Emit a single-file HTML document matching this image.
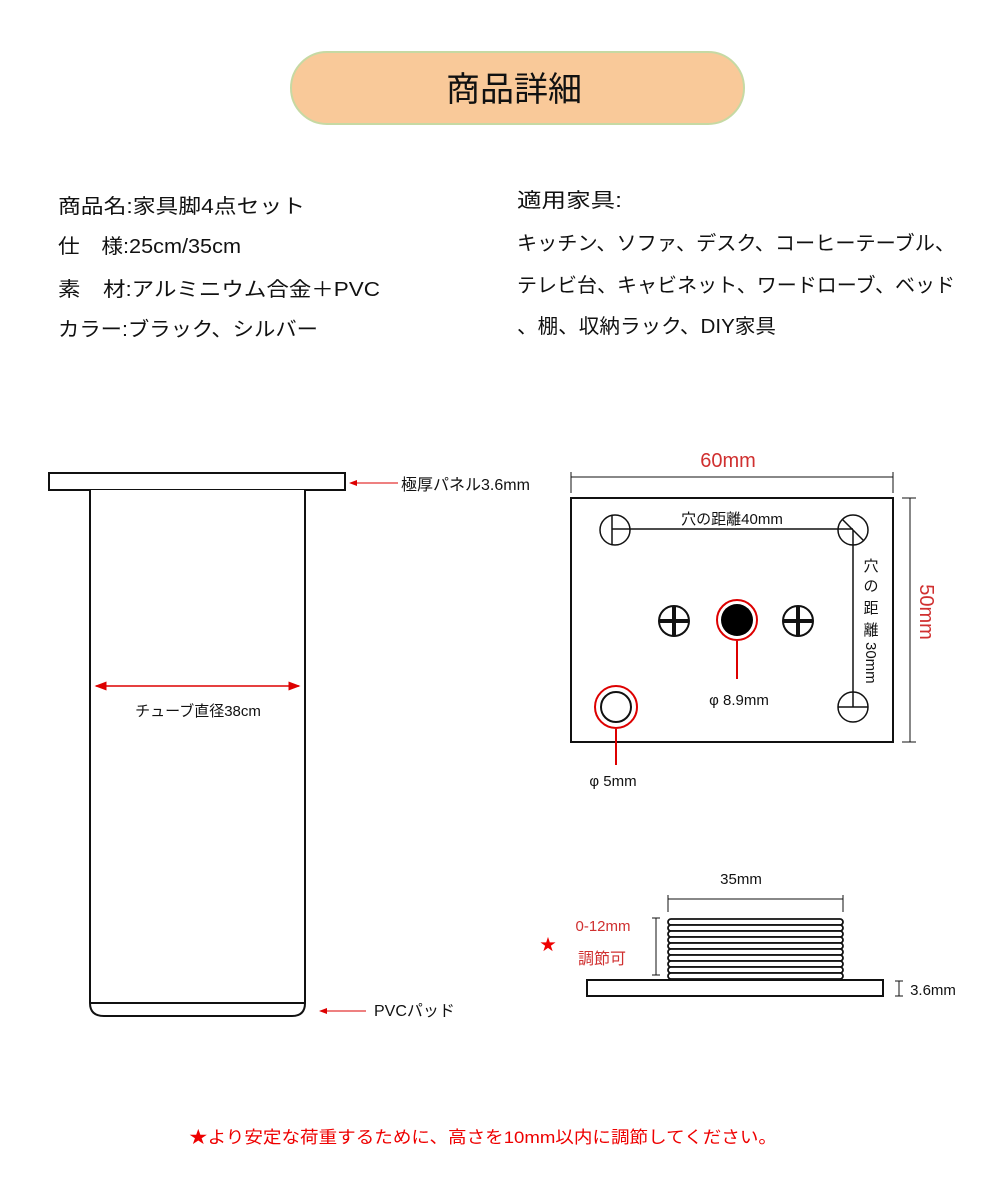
<!DOCTYPE html>
<html><head><meta charset="utf-8"><style>
html,body{margin:0;padding:0;background:#fff}
svg{display:block}
text{font-family:"Liberation Sans","Noto Sans CJK JP",sans-serif}
</style></head><body>
<svg width="1000" height="1200" viewBox="0 0 1000 1200" xmlns="http://www.w3.org/2000/svg">
<defs>
<marker id="ar" markerWidth="8" markerHeight="8" refX="1" refY="4" orient="auto"><path d="M8,1 L0,4 L8,7 z" fill="#d00"/></marker>
<marker id="ar2" markerWidth="8" markerHeight="8" refX="7" refY="4" orient="auto"><path d="M0,1 L8,4 L0,7 z" fill="#d00"/></marker>
</defs>
<rect x="291" y="52" width="453" height="72" rx="36" fill="#f9c999" stroke="#c6d9a3" stroke-width="2"/>
<text x="514" y="101" font-size="34" text-anchor="middle" fill="#111">商品詳細</text>

<g font-size="20" fill="#111">
<text x="58" y="213" textLength="247" lengthAdjust="spacingAndGlyphs">商品名:家具脚4点セット</text>
<text x="58" y="253" textLength="183" lengthAdjust="spacingAndGlyphs">仕　様:25cm/35cm</text>
<text x="58" y="296" textLength="322" lengthAdjust="spacingAndGlyphs">素　材:アルミニウム合金＋PVC</text>
<text x="58" y="336" textLength="260" lengthAdjust="spacingAndGlyphs">カラー:ブラック、シルバー</text>
<text x="517" y="207" textLength="105" lengthAdjust="spacingAndGlyphs">適用家具:</text>
<text x="517" y="250" textLength="438" lengthAdjust="spacingAndGlyphs">キッチン、ソファ、デスク、コーヒーテーブル、</text>
<text x="517" y="292" textLength="438" lengthAdjust="spacingAndGlyphs">テレビ台、キャビネット、ワードローブ、ベッド</text>
<text x="517" y="333" textLength="259" lengthAdjust="spacingAndGlyphs">、棚、収納ラック、DIY家具</text>
</g>

<!-- tube -->
<g stroke="#111" stroke-width="2" fill="#fff">
<rect x="49" y="473" width="296" height="17"/>
<path d="M90,490 V1003 Q90,1016 104,1016 H292 Q305,1016 305,1003 V490"/>
<line x1="90" y1="1003" x2="305" y2="1003"/>
</g>
<line x1="350" y1="483" x2="398" y2="483" stroke="#d00" stroke-width="1" marker-start="url(#ar)"/>
<text x="401" y="490" font-size="16" fill="#111">極厚パネル3.6mm</text>
<line x1="320" y1="1011" x2="366" y2="1011" stroke="#d00" stroke-width="1" marker-start="url(#ar)"/>
<text x="374" y="1016" font-size="16" fill="#111">PVCパッド</text>
<line x1="96" y1="686" x2="299" y2="686" stroke="#d00" stroke-width="1.5" marker-start="url(#ar)" marker-end="url(#ar2)"/>
<text x="198" y="716" font-size="15" text-anchor="middle" fill="#111">チューブ直径38cm</text>

<!-- plate -->
<g stroke="#111" stroke-width="1" fill="none">
<line x1="571" y1="477" x2="893" y2="477"/><line x1="571" y1="472" x2="571" y2="493"/><line x1="893" y1="472" x2="893" y2="493"/>
<line x1="910" y1="498" x2="910" y2="742"/><line x1="902" y1="498" x2="916" y2="498"/><line x1="902" y1="742" x2="916" y2="742"/>
</g>
<text x="728" y="467" font-size="20" text-anchor="middle" fill="#d03030">60mm</text>
<text transform="translate(920,612) rotate(90)" font-size="20" text-anchor="middle" fill="#d03030">50mm</text>
<rect x="571" y="498" width="322" height="244" fill="#fff" stroke="#111" stroke-width="2"/>
<g stroke="#111" stroke-width="1.5" fill="#fff">
<circle cx="615" cy="530" r="15"/>
<line x1="612" y1="515" x2="612" y2="545"/>
<circle cx="853" cy="530" r="15"/>
<line x1="842" y1="519" x2="864" y2="541"/>
<circle cx="853" cy="707" r="15"/>
<line x1="838" y1="707" x2="868" y2="707"/>
</g>
<line x1="612" y1="529" x2="853" y2="529" stroke="#111" stroke-width="1.5"/>
<line x1="853" y1="530" x2="853" y2="707" stroke="#111" stroke-width="1.5"/>
<text x="732" y="524" font-size="15" text-anchor="middle" fill="#111">穴の距離40mm</text>
<g font-size="15" fill="#111" text-anchor="middle">
<text x="871" y="571">穴</text><text x="871" y="591">の</text><text x="871" y="613">距</text><text x="871" y="635">離</text>
</g>
<text transform="translate(866,642) rotate(90)" font-size="15" fill="#111">30mm</text>
<g stroke="#111" stroke-width="2" fill="#fff">
<circle cx="674" cy="621" r="15"/><circle cx="798" cy="621" r="15"/>
</g>
<g stroke="#111" stroke-width="4">
<line x1="660" y1="621" x2="688" y2="621"/><line x1="674" y1="607" x2="674" y2="635"/>
<line x1="784" y1="621" x2="812" y2="621"/><line x1="798" y1="607" x2="798" y2="635"/>
</g>
<circle cx="737" cy="620" r="20" fill="#fff" stroke="#d00" stroke-width="2"/>
<circle cx="737" cy="620" r="16" fill="#000"/>
<line x1="737" y1="641" x2="737" y2="679" stroke="#d00" stroke-width="2"/>
<text x="739" y="705" font-size="15" text-anchor="middle" fill="#111">φ 8.9mm</text>
<circle cx="616" cy="707" r="21" fill="#fff" stroke="#d00" stroke-width="2"/>
<circle cx="616" cy="707" r="15" fill="#fff" stroke="#111" stroke-width="2"/>
<line x1="616" y1="729" x2="616" y2="765" stroke="#d00" stroke-width="2"/>
<text x="613" y="786" font-size="15" text-anchor="middle" fill="#111">φ 5mm</text>

<!-- thread -->
<g stroke="#111" stroke-width="1" fill="none">
<line x1="668" y1="899" x2="843" y2="899"/><line x1="668" y1="895" x2="668" y2="912"/><line x1="843" y1="895" x2="843" y2="912"/>
<line x1="656" y1="918" x2="656" y2="975"/><line x1="652" y1="918" x2="660" y2="918"/><line x1="652" y1="975" x2="660" y2="975"/>
<line x1="899" y1="981" x2="899" y2="996"/><line x1="895" y1="981" x2="903" y2="981"/><line x1="895" y1="996" x2="903" y2="996"/>
</g>
<text x="741" y="884" font-size="15" text-anchor="middle" fill="#111">35mm</text>
<g fill="#fff" stroke="#111" stroke-width="1.8">
<rect x="668" y="919" width="175" height="6" rx="3"/>
<rect x="668" y="925" width="175" height="6" rx="3"/>
<rect x="668" y="931" width="175" height="6" rx="3"/>
<rect x="668" y="937" width="175" height="6" rx="3"/>
<rect x="668" y="943" width="175" height="6" rx="3"/>
<rect x="668" y="949" width="175" height="6" rx="3"/>
<rect x="668" y="955" width="175" height="6" rx="3"/>
<rect x="668" y="961" width="175" height="6" rx="3"/>
<rect x="668" y="967" width="175" height="6" rx="3"/>
<rect x="668" y="973" width="175" height="6" rx="3"/>
</g>
<rect x="587" y="980" width="296" height="16" fill="#fff" stroke="#111" stroke-width="2"/>
<text x="933" y="995" font-size="15" text-anchor="middle" fill="#111">3.6mm</text>
<text x="603" y="931" font-size="15" text-anchor="middle" fill="#d03030">0-12mm</text>
<text x="602" y="964" font-size="16" text-anchor="middle" fill="#d03030">調節可</text>
<text x="548" y="950" font-size="16" text-anchor="middle" fill="#e00">★</text>

<text x="483" y="1143" font-size="17" text-anchor="middle" fill="#e00" textLength="588" lengthAdjust="spacingAndGlyphs">★より安定な荷重するために、高さを10mm以内に調節してください。</text>
</svg>
</body></html>
